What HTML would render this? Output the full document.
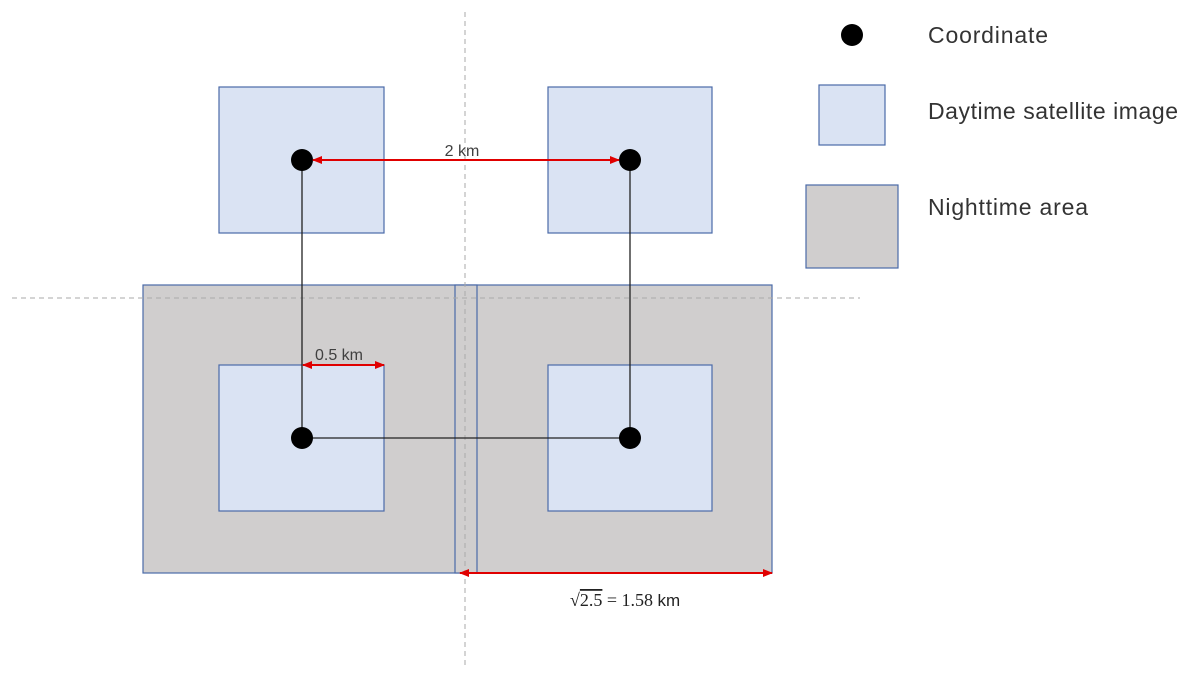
<!DOCTYPE html>
<html><head><style>body{margin:0;background:#fff}</style></head><body>
<svg width="1187" height="682" xmlns="http://www.w3.org/2000/svg" font-family="Liberation Sans, sans-serif">
<defs><marker id="a" markerWidth="10" markerHeight="8" refX="9" refY="4" orient="auto-start-reverse" markerUnits="userSpaceOnUse"><path d="M0,0L10,4L0,8z" fill="#e00000"/></marker></defs>
<rect x="143" y="285" width="334" height="288" fill="#d0cece" stroke="#4a6aa8" stroke-width="1.2"/>
<rect x="455" y="285" width="317" height="288" fill="#d0cece" stroke="#4a6aa8" stroke-width="1.2"/>
<line x1="477" y1="285" x2="477" y2="573" stroke="#4a6aa8" stroke-width="1.2"/>
<g fill="#dae3f3" stroke="#4a6aa8" stroke-width="1.2">
<rect x="219" y="87" width="165" height="146"/><rect x="548" y="87" width="164" height="146"/>
<rect x="219" y="365" width="165" height="146"/><rect x="548" y="365" width="164" height="146"/>
<rect x="819" y="85" width="66" height="60"/>
</g>
<rect x="806" y="185" width="92" height="83" fill="#d0cece" stroke="#4a6aa8" stroke-width="1.2"/>
<g stroke="#aaa" stroke-dasharray="5,4" stroke-width="1"><line x1="465" y1="12" x2="465" y2="668"/><line x1="12" y1="298" x2="860" y2="298"/></g>
<g stroke="#222" stroke-width="1.3"><line x1="302" y1="160" x2="302" y2="438"/><line x1="630" y1="160" x2="630" y2="438"/><line x1="302" y1="438" x2="630" y2="438"/></g>
<g fill="#000"><circle cx="302" cy="160" r="11"/><circle cx="630" cy="160" r="11"/><circle cx="302" cy="438" r="11"/><circle cx="630" cy="438" r="11"/><circle cx="852" cy="35" r="11"/></g>
<g stroke="#e00000" stroke-width="2"><line x1="313" y1="160" x2="619" y2="160" marker-start="url(#a)" marker-end="url(#a)"/>
<line x1="303" y1="365" x2="384" y2="365" marker-start="url(#a)" marker-end="url(#a)"/>
<line x1="460" y1="573" x2="772" y2="573" marker-start="url(#a)" marker-end="url(#a)"/></g>
<g fill="#404040" font-size="16"><text x="462" y="156" text-anchor="middle">2 km</text><text x="339" y="360" text-anchor="middle">0.5 km</text></g>
<text x="570" y="606" font-size="18" fill="#222" font-family="Liberation Serif, serif">√<tspan text-decoration="overline">2.5</tspan> = 1.58 <tspan font-family="Liberation Sans, sans-serif" font-size="17">km</tspan></text>
<g fill="#333" font-size="23"><text x="928" y="43" textLength="120">Coordinate</text><text x="928" y="119" textLength="250">Daytime satellite image</text><text x="928" y="215" textLength="160">Nighttime area</text></g>
</svg></body></html>
